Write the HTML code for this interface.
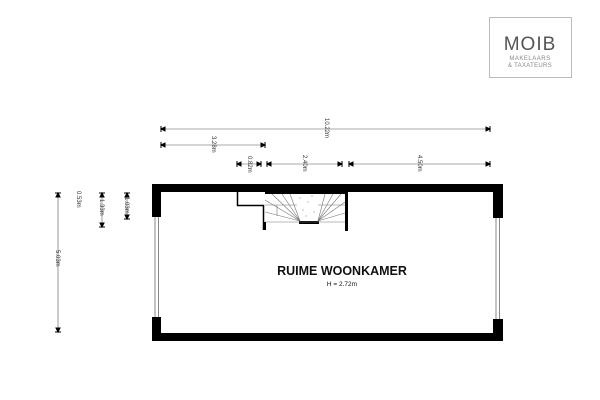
<!DOCTYPE html>
<html><head><meta charset="utf-8"><style>
html,body{margin:0;padding:0;background:#fff;width:600px;height:400px;overflow:hidden}
svg{display:block}
text{font-family:"Liberation Sans",sans-serif}
</style></head><body>
<svg width="600" height="400" viewBox="0 0 600 400" xmlns="http://www.w3.org/2000/svg">
<defs>
<g id="tk"><rect x="-1.5" y="-2.5" width="1" height="5" fill="#000"/><path d="M-1 -2 L3 0 L-1 2Z" fill="#000"/></g>
</defs>
<!-- logo -->
<rect x="489.5" y="17.5" width="82" height="60" fill="#fff" stroke="#bbb" stroke-width="1"/>
<text x="530" y="50" font-size="19" fill="#555" text-anchor="middle" letter-spacing="1">MOIB</text>
<text x="530" y="60" font-size="6" fill="#888" text-anchor="middle" letter-spacing="0.5">MAKELAARS</text>
<text x="530" y="67" font-size="6" fill="#888" text-anchor="middle" letter-spacing="0.3">&amp; TAXATEURS</text>

<!-- horizontal dims -->
<g stroke="#555" stroke-width="0.6">
<line x1="161" y1="129" x2="490" y2="129"/>
<line x1="161" y1="145" x2="265" y2="145"/>
<line x1="237" y1="164" x2="261" y2="164"/>
<line x1="267" y1="164" x2="342" y2="164"/>
<line x1="349" y1="164" x2="490" y2="164"/>
</g>
<g fill="#000">
<path d="M161 126v6M161 129l4 -2v4z" stroke="#000" stroke-width="1"/>
<path d="M490 126v6M490 129l-4 -2v4z" stroke="#000" stroke-width="1"/>
<path d="M161 142v6M161 145l4 -2v4z" stroke="#000" stroke-width="1"/>
<path d="M265 142v6M265 145l-4 -2v4z" stroke="#000" stroke-width="1"/>
<path d="M237 161v6M237 164l4 -2v4z" stroke="#000" stroke-width="1"/>
<path d="M261 161v6M261 164l-4 -2v4z" stroke="#000" stroke-width="1"/>
<path d="M267 161v6M267 164l4 -2v4z" stroke="#000" stroke-width="1"/>
<path d="M342 161v6M342 164l-4 -2v4z" stroke="#000" stroke-width="1"/>
<path d="M349 161v6M349 164l4 -2v4z" stroke="#000" stroke-width="1"/>
<path d="M490 161v6M490 164l-4 -2v4z" stroke="#000" stroke-width="1"/>
</g>
<g font-size="6" fill="#333">
<text transform="translate(325,118) rotate(90)">10.22m</text>
<text transform="translate(212,136) rotate(90)">3.28m</text>
<text transform="translate(248,156) rotate(90)">0.82m</text>
<text transform="translate(303,155) rotate(90)">2.40m</text>
<text transform="translate(418,155) rotate(90)">4.50m</text>
</g>
<!-- vertical dims -->
<g stroke="#555" stroke-width="0.6">
<line x1="58" y1="193" x2="58" y2="332"/>
<line x1="102" y1="193" x2="102" y2="227"/>
<line x1="127" y1="193" x2="127" y2="219"/>
</g>
<path d="M55 193h6M58 193l-2 4h4z M55 332h6M58 332l-2 -4h4z M99 193h6M102 193l-2 4h4z M99 227h6M102 227l-2 -4h4z M124 193h6M127 193l-2 4h4z M124 219h6M127 219l-2 -4h4z" stroke="#000" stroke-width="1" fill="#000"/>
<g font-size="6" fill="#333">
<text transform="translate(56,250) rotate(90)">5.03m</text>
<text transform="translate(77,191) rotate(90)">0.53m</text>
<text transform="translate(100,199) rotate(90)">1.33m</text>
<text transform="translate(125,197) rotate(90)">1.03m</text>
</g>
<!-- walls -->
<g fill="#000">
<rect x="152" y="184" width="351" height="8"/>
<rect x="152" y="184" width="9" height="33"/>
<rect x="152" y="317" width="9" height="24"/>
<rect x="493" y="184" width="10" height="34"/>
<rect x="493" y="319" width="10" height="22"/>
<rect x="152" y="333" width="351" height="8"/>
</g>
<!-- windows -->
<g stroke="#888" stroke-width="1">
<line x1="155" y1="217" x2="155" y2="317"/><line x1="158.5" y1="217" x2="158.5" y2="317"/>
<line x1="496" y1="218" x2="496" y2="319"/><line x1="499.5" y1="218" x2="499.5" y2="319"/>
</g>
<!-- closet + stairs -->
<path d="M237.5 192V205.5H263.5V230" fill="none" stroke="#000" stroke-width="1.5"/>
<rect x="265" y="192" width="81" height="2" fill="#000"/>
<rect x="345" y="192" width="3" height="39" fill="#000"/>
<rect x="299" y="221" width="20" height="3" fill="#000"/>
<g stroke="#777" stroke-width="0.6" fill="none">
<line x1="265" y1="222" x2="345" y2="222"/>
<line x1="265" y1="205" x2="297" y2="205"/>
<line x1="318" y1="205" x2="345" y2="205"/>
<path d="M300 221L272 194M300 221L282 194M300 221L290 194M300 221L265 200M300 221L265 212M318 221L325 194M318 221L333 194M318 221L341 194M318 221L345 202M318 221L345 213"/>
<line x1="277" y1="205" x2="277" y2="216"/>
</g>
<g fill="#999">
<circle cx="300" cy="198" r="0.6"/><circle cx="308" cy="202" r="0.6"/><circle cx="303" cy="210" r="0.6"/><circle cx="312" cy="196" r="0.6"/><circle cx="306" cy="216" r="0.6"/><circle cx="314" cy="212" r="0.6"/>
</g>
<line x1="265" y1="222" x2="265" y2="230" stroke="#000" stroke-width="2"/>
<!-- labels -->
<text x="342" y="275" font-size="12.5" font-weight="bold" text-anchor="middle" fill="#111">RUIME WOONKAMER</text>
<text x="342" y="286" font-size="6.5" text-anchor="middle" fill="#111">H = 2.72m</text>
</svg>
</body></html>
